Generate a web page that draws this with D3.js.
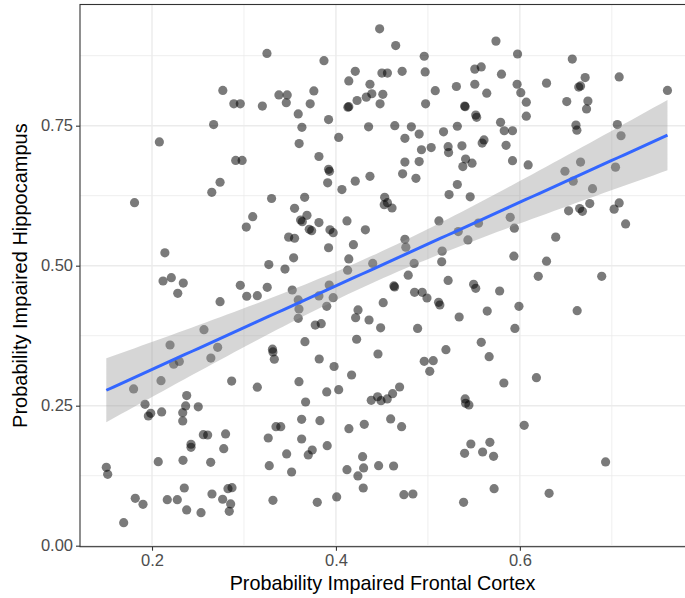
<!DOCTYPE html>
<html><head><meta charset="utf-8">
<script src="https://cdn.jsdelivr.net/npm/d3@7"></script>
<style>body{margin:0;background:#fff}svg{display:block}text{font-family:"Liberation Sans",Arial,sans-serif}</style>
</head><body><svg id="c" width="685" height="598"></svg>
<script>
const frontal = [0.325,0.277,0.289,0.296,0.320,0.338,0.267,0.208,
0.4475,0.465,0.387,0.496,0.421,0.450,0.456,0.472,0.497,0.414,0.437,0.551,0.558,0.531,0.551,0.347,0.346,0.376,0.372,0.359,0.392,0.363,0.439,0.433,0.451,0.423,0.413,0.414,0.448,0.508,0.4975,0.540,0.5405,0.552,0.553,0.4355,0.464,0.482,0.403,0.475,0.4905,0.517,0.532,0.360,
0.574,0.5975,0.580,0.597,0.564,0.601,0.629,0.657,0.671,0.666,0.664,0.708,0.7605,0.607,0.651,0.674,0.6725,0.607,0.579,0.583,0.592,0.661,0.662,0.706,0.710,0.561,0.585,
0.291,0.298,0.274,0.265,0.181,0.330,0.3095,0.3025,0.214,0.327,
0.3815,0.392,0.393,0.391,0.4065,0.421,0.437,0.4725,0.475,0.4905,0.493,0.5036,0.522,0.5225,0.537,0.541,0.538,0.548,0.487,0.532,0.523,0.546,0.559,0.366,0.355,0.3685,0.3616,0.3634,0.371,0.3736,0.3815,0.3486,0.355,0.3935,0.397,0.392,0.354,0.3446,0.412,0.432,0.419,0.414,0.4127,0.440,0.453,0.456,0.4525,0.461,0.475,0.476,0.485,0.4786,0.512,0.533,0.5435,0.5155,0.515,0.522,
0.592,0.609,0.649,0.666,0.658,0.704,0.679,0.676,0.653,0.665,0.668,0.7025,0.708,0.715,0.5895,0.594,0.639,0.5935,0.629,0.620,0.689,0.555,
0.212,0.221,0.234,0.228,0.274,0.296,0.303,0.3145,0.3253,0.2565,0.2196,0.2714,0.264,0.2236,0.2297,0.2098,0.180,0.2866,0.3145,0.331,0.3315,0.333,0.1924,0.2377,0.2366,0.2503,
0.3525,0.359,0.3598,0.359,0.3815,0.3927,0.397,0.390,0.3775,0.384,0.3663,0.3818,0.398,0.3598,0.367,0.390,0.403,0.417,0.4225,0.424,0.4214,0.436,0.4486,0.4514,0.463,0.4638,0.4855,0.4938,0.499,0.5116,0.513,0.5497,0.552,0.534,0.4888,0.4457,0.5196,0.496,0.5058,0.502,0.4692,0.4616,0.4558,0.4453,0.4384,0.449,0.5405,0.541,0.5446,
0.578,0.5645,0.599,0.5946,0.6623,0.558,0.5666,0.5826,0.618,
0.196,0.1986,0.2105,0.2334,0.2334,0.2558,0.2605,0.280,0.2424,0.2424,0.278,0.2068,0.2337,0.2638,0.1503,0.1518,0.2351,0.2826,0.287,0.2652,0.1818,0.1902,0.2166,0.2275,0.2377,0.2533,0.2768,0.2855,0.284,0.1692,0.3264,0.3348,0.340,0.3275,0.3315,
0.3627,0.3826,0.3627,0.3464,0.3742,0.3699,0.3905,0.3518,0.3797,0.4008,0.4141,0.4308,0.4595,0.4714,0.429,0.412,0.4301,0.4239,0.4464,0.4627,0.4297,0.4739,0.4837,0.5467,0.5399,0.5388,
0.5595,0.5674,0.5714,0.6047,0.6932,0.572,0.6318];
const hippocampus = [0.879,0.813,0.789,0.789,0.785,0.805,0.752,0.721,
0.923,0.893,0.866,0.874,0.847,0.844,0.844,0.847,0.846,0.830,0.824,0.851,0.855,0.820,0.824,0.805,0.791,0.812,0.789,0.771,0.761,0.747,0.807,0.801,0.806,0.795,0.783,0.784,0.789,0.8125,0.789,0.785,0.784,0.769,0.765,0.748,0.750,0.748,0.729,0.7275,0.735,0.739,0.749,0.718,
0.901,0.878,0.842,0.824,0.808,0.809,0.826,0.869,0.836,0.821,0.819,0.837,0.813,0.792,0.793,0.794,0.780,0.767,0.756,0.741,0.741,0.751,0.742,0.752,0.732,0.7245,0.715,
0.688,0.688,0.649,0.631,0.6125,0.620,0.5875,0.569,0.523,0.502,
0.695,0.672,0.6685,0.648,0.636,0.651,0.6596,0.664,0.685,0.686,0.707,0.711,0.7125,0.702,0.714,0.6905,0.677,0.683,0.656,0.645,0.627,0.623,0.719,0.622,0.6025,0.590,0.5816,0.5786,0.565,0.5625,0.577,0.551,0.549,0.564,0.559,0.532,0.514,0.494,0.580,0.564,0.5375,0.512,0.492,0.504,0.622,0.6125,0.609,0.603,0.547,0.533,0.504,0.483,0.580,0.561,0.546,0.526,0.507,0.4736,
0.6875,0.680,0.6686,0.685,0.651,0.676,0.6375,0.611,0.598,0.602,0.597,0.601,0.612,0.5745,0.5864,0.567,0.551,0.517,0.508,0.481,0.481,0.576,
0.4727,0.4786,0.469,0.4507,0.4357,0.465,0.4454,0.4464,0.4614,0.3857,0.3584,0.3543,0.335,0.324,0.329,0.2946,0.280,0.294,0.283,0.351,0.346,0.333,0.2525,0.268,0.2495,0.248,
0.4566,0.4388,0.4227,0.406,0.446,0.4655,0.4429,0.4275,0.394,0.3964,0.3643,0.3334,0.320,0.2929,0.2566,0.2745,0.2786,0.3048,0.3686,0.421,0.407,0.403,0.389,0.434,0.4638,0.462,0.4525,0.4525,0.4423,0.4346,0.4298,0.4668,0.4596,0.4084,0.388,0.3423,0.35,0.3293,0.3304,0.3114,0.2834,0.2714,0.262,0.266,0.2596,0.259,0.262,0.2543,0.2513,
0.4548,0.419,0.4275,0.388,0.4196,0.3632,0.3375,0.2905,0.300,
0.2316,0.2364,0.2388,0.2375,0.2227,0.1982,0.1977,0.1995,0.1811,0.1757,0.1732,0.150,0.1525,0.1489,0.140,0.1275,0.103,0.1018,0.1036,0.0923,0.0846,0.0739,0.0821,0.0821,0.0638,0.0589,0.0829,0.0745,0.0614,0.0411,0.1923,0.2125,0.2125,0.1429,0.0811,
0.2257,0.2232,0.1905,0.1638,0.1709,0.162,0.1786,0.1316,0.0775,0.087,0.2089,0.2168,0.2263,0.2125,0.1589,0.1357,0.1388,0.1245,0.1429,0.1423,0.103,0.0911,0.0923,0.1816,0.165,0.0775,
0.1673,0.1846,0.1596,0.215,0.1495,0.1018,0.0936];
const xTicks = [0.2, 0.4, 0.6];
const xMinor = [0.3, 0.5, 0.7];
const yTicks = [0, 0.25, 0.5, 0.75];
const yMinor = [0.125, 0.375, 0.625, 0.875];
const xTitle = "Probability Impaired Frontal Cortex";
const yTitle = "Probability Impaired Hippocampus";

const svg = d3.select("#c");
const L = 80, R = 690, T = 4.5, B = 546.7;
const x = d3.scaleLinear().domain([0.1217, 0.785]).range([L, R]);
const y = d3.scaleLinear().domain([-0.0018, 0.9664]).range([B, T]);

svg.append("defs").append("clipPath").attr("id","clip").append("rect")
  .attr("x",L).attr("y",T).attr("width",R-L).attr("height",B-T);
const g = svg.append("g");
g.selectAll(".xm").data(xMinor).join("line").attr("x1",d=>x(d)).attr("x2",d=>x(d)).attr("y1",T).attr("y2",B).attr("stroke","#ebebeb").attr("stroke-width",0.8);
g.selectAll(".ym").data(yMinor).join("line").attr("y1",d=>y(d)).attr("y2",d=>y(d)).attr("x1",L).attr("x2",R).attr("stroke","#ebebeb").attr("stroke-width",0.8);
g.selectAll(".xM").data(xTicks).join("line").attr("x1",d=>x(d)).attr("x2",d=>x(d)).attr("y1",T).attr("y2",B).attr("stroke","#ebebeb").attr("stroke-width",1.4);
g.selectAll(".yM").data(yTicks).join("line").attr("y1",d=>y(d)).attr("y2",d=>y(d)).attr("x1",L).attr("x2",R).attr("stroke","#ebebeb").attr("stroke-width",1.4);

const pts = frontal.map((f,i)=>({f, h: hippocampus[i]}));
svg.append("g").attr("clip-path","url(#clip)").selectAll("circle").data(pts).join("circle")
  .attr("cx",d=>x(d.f)).attr("cy",d=>y(d.h)).attr("r",4.6)
  .attr("fill","#000").attr("fill-opacity",0.52);

const n = pts.length;
const mx = d3.mean(pts,d=>d.f), my = d3.mean(pts,d=>d.h);
const sxx = d3.sum(pts,d=>(d.f-mx)**2), sxy = d3.sum(pts,d=>(d.f-mx)*(d.h-my));
const b1 = sxy/sxx, b0 = my - b1*mx;
const s = Math.sqrt(d3.sum(pts,d=>(d.h-b0-b1*d.f)**2)/(n-2));
const tq = 1.968;
const [xmin,xmax] = d3.extent(pts,d=>d.f);
const fit = d3.range(80).map(i=>{const xv = xmin + (xmax-xmin)*i/79; const yv=b0+b1*xv; const se = s*Math.sqrt(1/n+(xv-mx)**2/sxx); return {xv, yv, lo: yv-tq*se, hi: yv+tq*se};});
const fg = svg.append("g").attr("clip-path","url(#clip)");
fg.append("path").datum(fit).attr("d",d3.area().x(d=>x(d.xv)).y0(d=>y(d.lo)).y1(d=>y(d.hi)))
  .attr("fill","#999999").attr("fill-opacity",0.4);
fg.append("path").datum(fit).attr("d",d3.line().x(d=>x(d.xv)).y(d=>y(d.yv)))
  .attr("fill","none").attr("stroke","#3366FF").attr("stroke-width",3);

svg.append("rect").attr("x",L).attr("y",T).attr("width",R-L).attr("height",B-T).attr("fill","none").attr("stroke","#333333").attr("stroke-width",1.1);

const xa = svg.append("g").attr("transform",`translate(0,${B})`).call(d3.axisBottom(x).tickValues(xTicks).tickFormat(d3.format(".1f")).tickSize(4).tickSizeOuter(0));
const ya = svg.append("g").attr("transform",`translate(${L},0)`).call(d3.axisLeft(y).tickValues(yTicks).tickFormat(d3.format(".2f")).tickSize(4).tickSizeOuter(0));
[xa,ya].forEach(a=>{a.select(".domain").remove(); a.selectAll("line").attr("stroke","#333333").attr("stroke-width",1.1); a.selectAll("text").attr("fill","#4d4d4d").style("font-size","16.5px").style("font-family","'Liberation Sans',Arial,sans-serif");});
xa.selectAll("text").attr("dy","0.71em").attr("y",8);
ya.selectAll("text").attr("x",-7);

svg.append("text").attr("x",(L+685)/2).attr("y",590).attr("text-anchor","middle").style("font-size","19.8px").attr("fill","#000").text(xTitle);
svg.append("text").attr("transform",`translate(27,${(T+B)/2}) rotate(-90)`).attr("text-anchor","middle").style("font-size","20px").attr("fill","#000").text(yTitle);
</script></body></html>
